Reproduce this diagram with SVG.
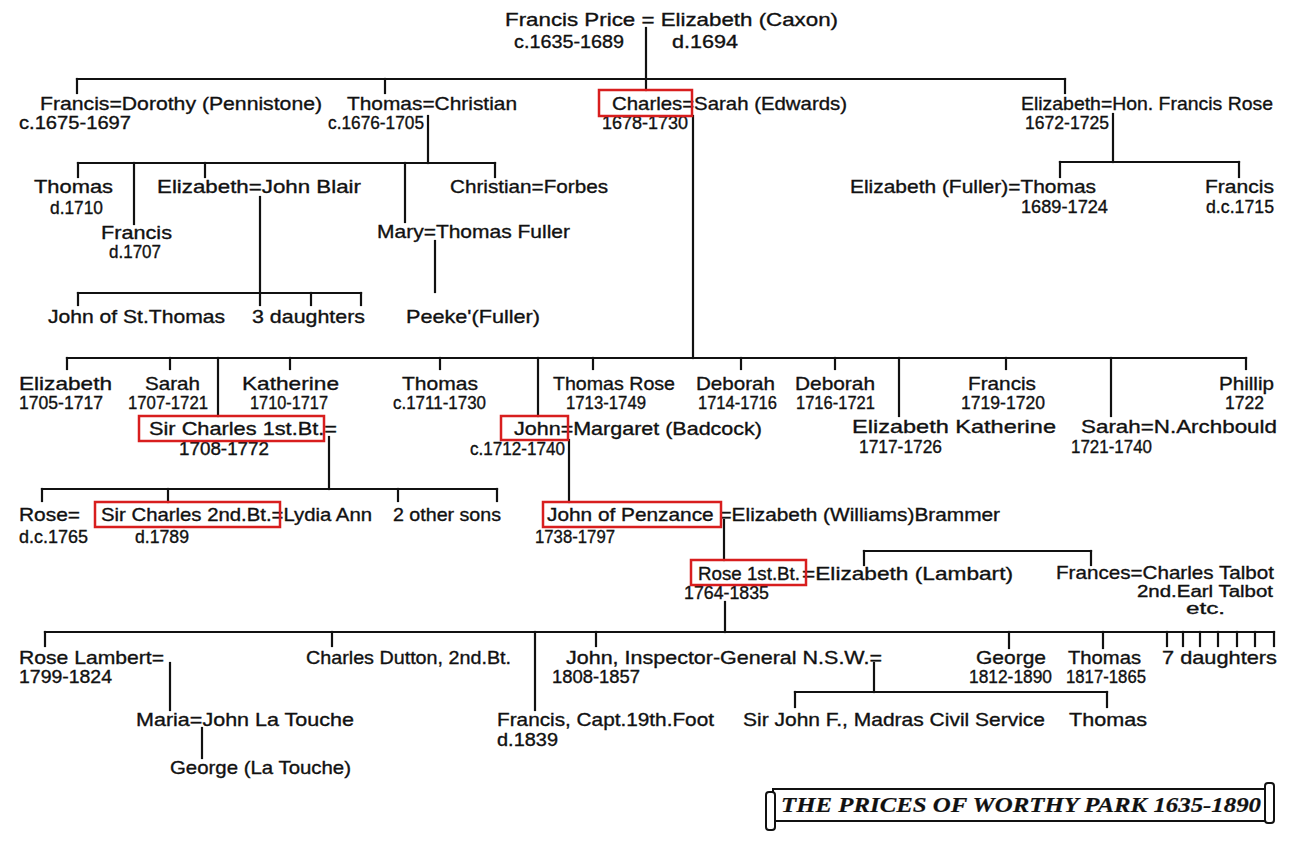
<svg xmlns="http://www.w3.org/2000/svg" width="1312" height="850" viewBox="0 0 1312 850">
<style>
text{font-family:"Liberation Sans",Arial,sans-serif;font-size:19px;fill:#111;stroke:#111;stroke-width:0.35;}
text.d{font-size:18px;}
text.s{font-size:16px;}
.c line{stroke:#111;stroke-width:2.2;stroke-linecap:square;}
.hl{fill:none;stroke:#d81e1e;stroke-width:2.5;}
text.title{font-family:"Liberation Serif",serif;font-style:italic;font-weight:bold;font-size:20px;stroke-width:0.2;}
.ban{fill:#fff;stroke:#111;stroke-width:2;}
</style>
<rect width="1312" height="850" fill="#fff"/>

<g id="connectors" class="c">
<line x1="646" y1="28" x2="646" y2="90"/>
<line x1="77" y1="79" x2="1065" y2="79"/>
<line x1="77" y1="79" x2="77" y2="93"/>
<line x1="385" y1="79" x2="385" y2="93"/>
<line x1="1065" y1="79" x2="1065" y2="93"/>
<line x1="428" y1="116" x2="428" y2="163"/>
<line x1="78" y1="163" x2="495" y2="163"/>
<line x1="78" y1="163" x2="78" y2="177"/>
<line x1="134" y1="163" x2="134" y2="224"/>
<line x1="205" y1="163" x2="205" y2="177"/>
<line x1="405" y1="163" x2="405" y2="222"/>
<line x1="495" y1="163" x2="495" y2="177"/>
<line x1="260" y1="197" x2="260" y2="305"/>
<line x1="78" y1="293" x2="361" y2="293"/>
<line x1="78" y1="293" x2="78" y2="305"/>
<line x1="311" y1="293" x2="311" y2="305"/>
<line x1="361" y1="293" x2="361" y2="305"/>
<line x1="435" y1="241" x2="435" y2="292"/>
<line x1="1113" y1="114" x2="1113" y2="162"/>
<line x1="1060" y1="162" x2="1239" y2="162"/>
<line x1="1060" y1="162" x2="1060" y2="177"/>
<line x1="1239" y1="162" x2="1239" y2="177"/>
<line x1="693" y1="116" x2="693" y2="358"/>
<line x1="67" y1="358" x2="1246" y2="358"/>
<line x1="67" y1="358" x2="67" y2="369"/>
<line x1="170" y1="358" x2="170" y2="369"/>
<line x1="218" y1="358" x2="218" y2="416"/>
<line x1="290" y1="358" x2="290" y2="369"/>
<line x1="440" y1="358" x2="440" y2="369"/>
<line x1="538" y1="358" x2="538" y2="416"/>
<line x1="593" y1="358" x2="593" y2="369"/>
<line x1="741" y1="358" x2="741" y2="369"/>
<line x1="835" y1="358" x2="835" y2="369"/>
<line x1="899" y1="358" x2="899" y2="416"/>
<line x1="1006" y1="358" x2="1006" y2="369"/>
<line x1="1111" y1="358" x2="1111" y2="416"/>
<line x1="1246" y1="358" x2="1246" y2="369"/>
<line x1="329" y1="437" x2="329" y2="489"/>
<line x1="42" y1="489" x2="497" y2="489"/>
<line x1="42" y1="489" x2="42" y2="501"/>
<line x1="168" y1="489" x2="168" y2="502"/>
<line x1="398" y1="489" x2="398" y2="501"/>
<line x1="497" y1="489" x2="497" y2="501"/>
<line x1="569" y1="440" x2="569" y2="502"/>
<line x1="724" y1="520" x2="724" y2="560"/>
<line x1="864" y1="551" x2="1091" y2="551"/>
<line x1="864" y1="551" x2="864" y2="565"/>
<line x1="1091" y1="551" x2="1091" y2="565"/>
<line x1="725" y1="602" x2="725" y2="632"/>
<line x1="45" y1="632" x2="1274" y2="632"/>
<line x1="45" y1="632" x2="45" y2="646"/>
<line x1="332" y1="632" x2="332" y2="646"/>
<line x1="535" y1="632" x2="535" y2="710"/>
<line x1="596" y1="632" x2="596" y2="646"/>
<line x1="1009" y1="632" x2="1009" y2="648"/>
<line x1="1103" y1="632" x2="1103" y2="648"/>
<line x1="1167" y1="632" x2="1167" y2="646"/>
<line x1="1183" y1="632" x2="1183" y2="646"/>
<line x1="1200" y1="632" x2="1200" y2="646"/>
<line x1="1218" y1="632" x2="1218" y2="646"/>
<line x1="1237" y1="632" x2="1237" y2="646"/>
<line x1="1255" y1="632" x2="1255" y2="646"/>
<line x1="1274" y1="632" x2="1274" y2="646"/>
<line x1="170" y1="663" x2="170" y2="710"/>
<line x1="202" y1="728" x2="202" y2="758"/>
<line x1="874" y1="663" x2="874" y2="692"/>
<line x1="795" y1="692" x2="1107" y2="692"/>
<line x1="795" y1="692" x2="795" y2="707"/>
<line x1="1107" y1="692" x2="1107" y2="707"/>
</g>

<g id="francis-price">
<text x="505" y="26" textLength="333" lengthAdjust="spacingAndGlyphs">Francis Price = Elizabeth (Caxon)</text>
<text class="d" x="514" y="48" textLength="110" lengthAdjust="spacingAndGlyphs">c.1635-1689</text>
<text class="d" x="672" y="48" textLength="66" lengthAdjust="spacingAndGlyphs">d.1694</text>
</g>

<g id="francis-1675">
<text x="40" y="110" textLength="282" lengthAdjust="spacingAndGlyphs">Francis=Dorothy (Pennistone)</text>
<text class="d" x="19" y="129" textLength="112" lengthAdjust="spacingAndGlyphs">c.1675-1697</text>
</g>
<g id="thomas-1676">
<text x="347" y="110" textLength="170" lengthAdjust="spacingAndGlyphs">Thomas=Christian</text>
<text class="d" x="328" y="129" textLength="96" lengthAdjust="spacingAndGlyphs">c.1676-1705</text>
</g>
<g id="charles-1678">
<text x="612" y="110" textLength="235" lengthAdjust="spacingAndGlyphs">Charles=Sarah (Edwards)</text>
<text class="d" x="602" y="129" textLength="86" lengthAdjust="spacingAndGlyphs">1678-1730</text>
<rect class="hl" x="599" y="90" width="93" height="26"/>
</g>
<g id="elizabeth-1672">
<text x="1021" y="110" textLength="252" lengthAdjust="spacingAndGlyphs">Elizabeth=Hon. Francis Rose</text>
<text class="d" x="1025" y="129" textLength="84" lengthAdjust="spacingAndGlyphs">1672-1725</text>
</g>

<g id="thomas-d1710">
<text x="34" y="193" textLength="79" lengthAdjust="spacingAndGlyphs">Thomas</text>
<text class="d" x="50" y="214" textLength="53" lengthAdjust="spacingAndGlyphs">d.1710</text>
</g>
<g id="francis-d1707">
<text x="101" y="239" textLength="71" lengthAdjust="spacingAndGlyphs">Francis</text>
<text class="d" x="109" y="258" textLength="52" lengthAdjust="spacingAndGlyphs">d.1707</text>
</g>
<g id="elizabeth-blair">
<text x="157" y="193" textLength="204" lengthAdjust="spacingAndGlyphs">Elizabeth=John Blair</text>
</g>
<g id="christian-forbes">
<text x="450" y="193" textLength="158" lengthAdjust="spacingAndGlyphs">Christian=Forbes</text>
</g>
<g id="mary-fuller">
<text x="377" y="238" textLength="193" lengthAdjust="spacingAndGlyphs">Mary=Thomas Fuller</text>
</g>
<g id="thomas-1689">
<text x="850" y="193" textLength="246" lengthAdjust="spacingAndGlyphs">Elizabeth (Fuller)=Thomas</text>
<text class="d" x="1021" y="213" textLength="87" lengthAdjust="spacingAndGlyphs">1689-1724</text>
</g>
<g id="francis-dc1715">
<text x="1205" y="193" textLength="69" lengthAdjust="spacingAndGlyphs">Francis</text>
<text class="d" x="1206" y="213" textLength="68" lengthAdjust="spacingAndGlyphs">d.c.1715</text>
</g>

<g id="john-st-thomas"><text x="48" y="323" textLength="177" lengthAdjust="spacingAndGlyphs">John of St.Thomas</text></g>
<g id="blair-daughters"><text x="252" y="323" textLength="113" lengthAdjust="spacingAndGlyphs">3 daughters</text></g>
<g id="peeke-fuller"><text x="406" y="323" textLength="134" lengthAdjust="spacingAndGlyphs">Peeke'(Fuller)</text></g>

<g id="elizabeth-1705">
<text x="19" y="390" textLength="93" lengthAdjust="spacingAndGlyphs">Elizabeth</text>
<text class="d" x="19" y="409" textLength="84" lengthAdjust="spacingAndGlyphs">1705-1717</text>
</g>
<g id="sarah-1707">
<text x="145" y="390" textLength="55" lengthAdjust="spacingAndGlyphs">Sarah</text>
<text class="d" x="128" y="409" textLength="80" lengthAdjust="spacingAndGlyphs">1707-1721</text>
</g>
<g id="katherine-1710">
<text x="242" y="390" textLength="97" lengthAdjust="spacingAndGlyphs">Katherine</text>
<text class="d" x="250" y="409" textLength="78" lengthAdjust="spacingAndGlyphs">1710-1717</text>
</g>
<g id="thomas-1711">
<text x="402" y="390" textLength="76" lengthAdjust="spacingAndGlyphs">Thomas</text>
<text class="d" x="393" y="409" textLength="93" lengthAdjust="spacingAndGlyphs">c.1711-1730</text>
</g>
<g id="thomas-rose-1713">
<text x="553" y="390" textLength="122" lengthAdjust="spacingAndGlyphs">Thomas Rose</text>
<text class="d" x="566" y="409" textLength="80" lengthAdjust="spacingAndGlyphs">1713-1749</text>
</g>
<g id="deborah-1714">
<text x="696" y="390" textLength="79" lengthAdjust="spacingAndGlyphs">Deborah</text>
<text class="d" x="698" y="409" textLength="79" lengthAdjust="spacingAndGlyphs">1714-1716</text>
</g>
<g id="deborah-1716">
<text x="795" y="390" textLength="80" lengthAdjust="spacingAndGlyphs">Deborah</text>
<text class="d" x="796" y="409" textLength="79" lengthAdjust="spacingAndGlyphs">1716-1721</text>
</g>
<g id="francis-1719">
<text x="968" y="390" textLength="68" lengthAdjust="spacingAndGlyphs">Francis</text>
<text class="d" x="961" y="409" textLength="84" lengthAdjust="spacingAndGlyphs">1719-1720</text>
</g>
<g id="phillip-1722">
<text x="1219" y="390" textLength="55" lengthAdjust="spacingAndGlyphs">Phillip</text>
<text class="d" x="1225" y="409" textLength="39" lengthAdjust="spacingAndGlyphs">1722</text>
</g>
<g id="sir-charles-1st">
<text x="149" y="435" textLength="188" lengthAdjust="spacingAndGlyphs">Sir Charles 1st.Bt.=</text>
<text class="d" x="179" y="455" textLength="90" lengthAdjust="spacingAndGlyphs">1708-1772</text>
<rect class="hl" x="139" y="416" width="185" height="25"/>
</g>
<g id="john-1712">
<text x="514" y="435" textLength="248" lengthAdjust="spacingAndGlyphs">John=Margaret (Badcock)</text>
<text class="d" x="470" y="455" textLength="95" lengthAdjust="spacingAndGlyphs">c.1712-1740</text>
<rect class="hl" x="501" y="416" width="67" height="24"/>
</g>
<g id="elizabeth-1717">
<text x="852" y="433" textLength="204" lengthAdjust="spacingAndGlyphs">Elizabeth Katherine</text>
<text class="d" x="859" y="453" textLength="83" lengthAdjust="spacingAndGlyphs">1717-1726</text>
</g>
<g id="sarah-1721">
<text x="1081" y="433" textLength="196" lengthAdjust="spacingAndGlyphs">Sarah=N.Archbould</text>
<text class="d" x="1071" y="453" textLength="81" lengthAdjust="spacingAndGlyphs">1721-1740</text>
</g>

<g id="rose-dc1765">
<text x="19" y="521" textLength="61" lengthAdjust="spacingAndGlyphs">Rose=</text>
<text class="d" x="19" y="543" textLength="69" lengthAdjust="spacingAndGlyphs">d.c.1765</text>
</g>
<g id="sir-charles-2nd">
<text x="101" y="521" textLength="271" lengthAdjust="spacingAndGlyphs">Sir Charles 2nd.Bt.=Lydia Ann</text>
<text class="d" x="135" y="543" textLength="54" lengthAdjust="spacingAndGlyphs">d.1789</text>
<rect class="hl" x="95" y="502" width="185" height="25"/>
</g>
<g id="other-sons"><text x="393" y="521" textLength="108" lengthAdjust="spacingAndGlyphs">2 other sons</text></g>
<g id="john-penzance">
<text x="547" y="521" textLength="453" lengthAdjust="spacingAndGlyphs">John of Penzance =Elizabeth (Williams)Brammer</text>
<text class="d" x="535" y="543" textLength="80" lengthAdjust="spacingAndGlyphs">1738-1797</text>
<rect class="hl" x="543" y="502" width="178" height="25"/>
</g>

<g id="rose-1st">
<text x="698" y="580" textLength="102" lengthAdjust="spacingAndGlyphs">Rose 1st.Bt.</text>
<text x="802" y="580" textLength="211" lengthAdjust="spacingAndGlyphs">=Elizabeth (Lambart)</text>
<text class="d" x="684" y="599" textLength="85" lengthAdjust="spacingAndGlyphs">1764-1835</text>
<rect class="hl" x="691" y="560" width="115" height="25"/>
</g>
<g id="frances-talbot">
<text x="1056" y="579" textLength="218" lengthAdjust="spacingAndGlyphs">Frances=Charles Talbot</text>
<text class="s" x="1137" y="597" textLength="136" lengthAdjust="spacingAndGlyphs">2nd.Earl Talbot</text>
<text class="s" x="1186" y="614" textLength="39" lengthAdjust="spacingAndGlyphs">etc.</text>
</g>

<g id="rose-lambert">
<text x="19" y="664" textLength="145" lengthAdjust="spacingAndGlyphs">Rose Lambert=</text>
<text class="d" x="19" y="683" textLength="93" lengthAdjust="spacingAndGlyphs">1799-1824</text>
</g>
<g id="charles-dutton"><text x="306" y="664" textLength="205" lengthAdjust="spacingAndGlyphs">Charles Dutton, 2nd.Bt.</text></g>
<g id="john-inspector">
<text x="566" y="664" textLength="316" lengthAdjust="spacingAndGlyphs">John, Inspector-General N.S.W.=</text>
<text class="d" x="552" y="683" textLength="88" lengthAdjust="spacingAndGlyphs">1808-1857</text>
</g>
<g id="george-1812">
<text x="976" y="664" textLength="70" lengthAdjust="spacingAndGlyphs">George</text>
<text class="d" x="969" y="683" textLength="83" lengthAdjust="spacingAndGlyphs">1812-1890</text>
</g>
<g id="thomas-1817">
<text x="1068" y="664" textLength="73" lengthAdjust="spacingAndGlyphs">Thomas</text>
<text class="d" x="1066" y="683" textLength="80" lengthAdjust="spacingAndGlyphs">1817-1865</text>
</g>
<g id="seven-daughters"><text x="1162" y="664" textLength="115" lengthAdjust="spacingAndGlyphs">7 daughters</text></g>

<g id="maria"><text x="136" y="726" textLength="218" lengthAdjust="spacingAndGlyphs">Maria=John La Touche</text></g>
<g id="francis-capt">
<text x="497" y="726" textLength="217" lengthAdjust="spacingAndGlyphs">Francis, Capt.19th.Foot</text>
<text class="d" x="497" y="746" textLength="61" lengthAdjust="spacingAndGlyphs">d.1839</text>
</g>
<g id="sir-john-f"><text x="743" y="726" textLength="302" lengthAdjust="spacingAndGlyphs">Sir John F., Madras Civil Service</text></g>
<g id="thomas-jr"><text x="1069" y="726" textLength="78" lengthAdjust="spacingAndGlyphs">Thomas</text></g>
<g id="george-latouche"><text x="170" y="774" textLength="181" lengthAdjust="spacingAndGlyphs">George (La Touche)</text></g>

<g id="title">
<rect class="ban" x="773" y="789" width="493" height="32"/>
<rect class="ban" x="766" y="792" width="9" height="38" rx="3"/>
<rect class="ban" x="1265" y="783" width="9" height="40" rx="3"/>
<text class="title" x="781" y="812" textLength="480" lengthAdjust="spacingAndGlyphs">THE PRICES OF WORTHY PARK 1635-1890</text>
</g>
</svg>
